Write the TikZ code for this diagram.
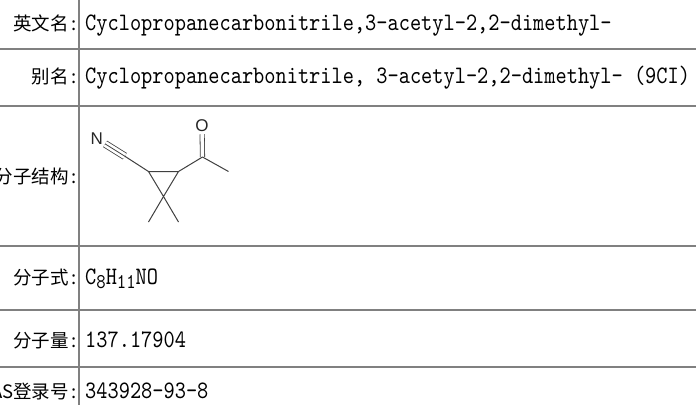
\documentclass[tikz,border=0pt]{standalone}
\usepackage{fontspec}
\newfontfamily\cjk{Noto Sans CJK SC}
\newfontfamily\monofam{lmmono10-regular.otf}[FakeStretch=0.85]
\newfontfamily\atomfont{Liberation Sans}
\usetikzlibrary{calc}
\definecolor{rulegray}{RGB}{128,128,128}
\newcommand\colonbox{\makebox[10pt]{:}}
\newcommand\chemsub[1]{\raisebox{-4pt}{\fontsize{21}{21}\selectfont #1}}
\tikzset{
  rulel/.style={draw=rulegray, line width=2pt},
  lab/.style={anchor=base east, inner sep=0pt, font=\cjk\fontsize{18.5}{18.5}\selectfont},
  val/.style={anchor=base west, inner sep=0pt, font=\monofam\fontsize{25.1}{25}\selectfont},
  bond/.style={draw=black!75, line width=1pt},
  thinbond/.style={draw=black!75, line width=0.8pt},
  atom/.style={inner sep=2pt, font=\atomfont\fontsize{17}{17}\selectfont, text=black!85},
}
\begin{document}
\begin{tikzpicture}[x=1pt,y=-1pt]
\useasboundingbox (0,0) rectangle (696,405);
\clip (0,0) rectangle (696,405);
\fill[white] (0,0) rectangle (696,405);
% table rules
\draw[rulel] (79,0) -- (79,405);
\foreach \yy in {49,105.7,245.7,310,366.7} \draw[rulel] (0,\yy) -- (696,\yy);
% labels
\node[lab] (l1) at (79,30) {英文名\colonbox};
\node[lab] (l2) at (79,83) {别名\colonbox};
\node[lab] (l3) at (79,183) {分子结构\colonbox};
\node[lab] (l4) at (79,284) {分子式\colonbox};
\node[lab] (l5) at (79,347) {分子量\colonbox};
\node[lab] (l6) at (79,398) {CAS登录号\colonbox};
% values
\node[val] (v1) at (85,30) {Cyclopropanecarbonitrile,3-acetyl-2,2-dimethyl-};
\node[val] (v2) at (85,83) {Cyclopropanecarbonitrile, 3-acetyl-2,2-dimethyl- (9CI)};
\node[val] (v4) at (85,284) {C\chemsub{8}H\chemsub{11}NO};
\node[val] (v5) at (85,347) {137.17904};
\node[val] (v6) at (85,398) {343928-93-8};
% molecule
\coordinate (C1) at (148.5,171.5);
\coordinate (C3) at (178.5,171.5);
\coordinate (C2) at (163.5,196.5);
\coordinate (M1) at (148.5,222);
\coordinate (M2) at (178.5,222);
\coordinate (Ck) at (202.5,157);
\coordinate (M3) at (228.5,171.5);
\coordinate (Cn) at (124.8,156.2);
\node[atom] (N) at (96.8,138.7) {N};
\node[atom] (O) at (202,126) {O};
\draw[thinbond, double=white, double distance=6pt] (Cn) -- (N);
\draw[thinbond] (Cn) -- (N);
\draw[thinbond, double=white, double distance=3.5pt] (Ck) -- (O);
\draw[bond] (Cn) -- (C1);
\draw[bond, line join=round] (C1) -- (C3) -- (C2) -- cycle;
\draw[bond] (C2) -- (M1);
\draw[bond] (C2) -- (M2);
\draw[bond, line join=round] (C3) -- (Ck) -- (M3);
\end{tikzpicture}
\end{document}
